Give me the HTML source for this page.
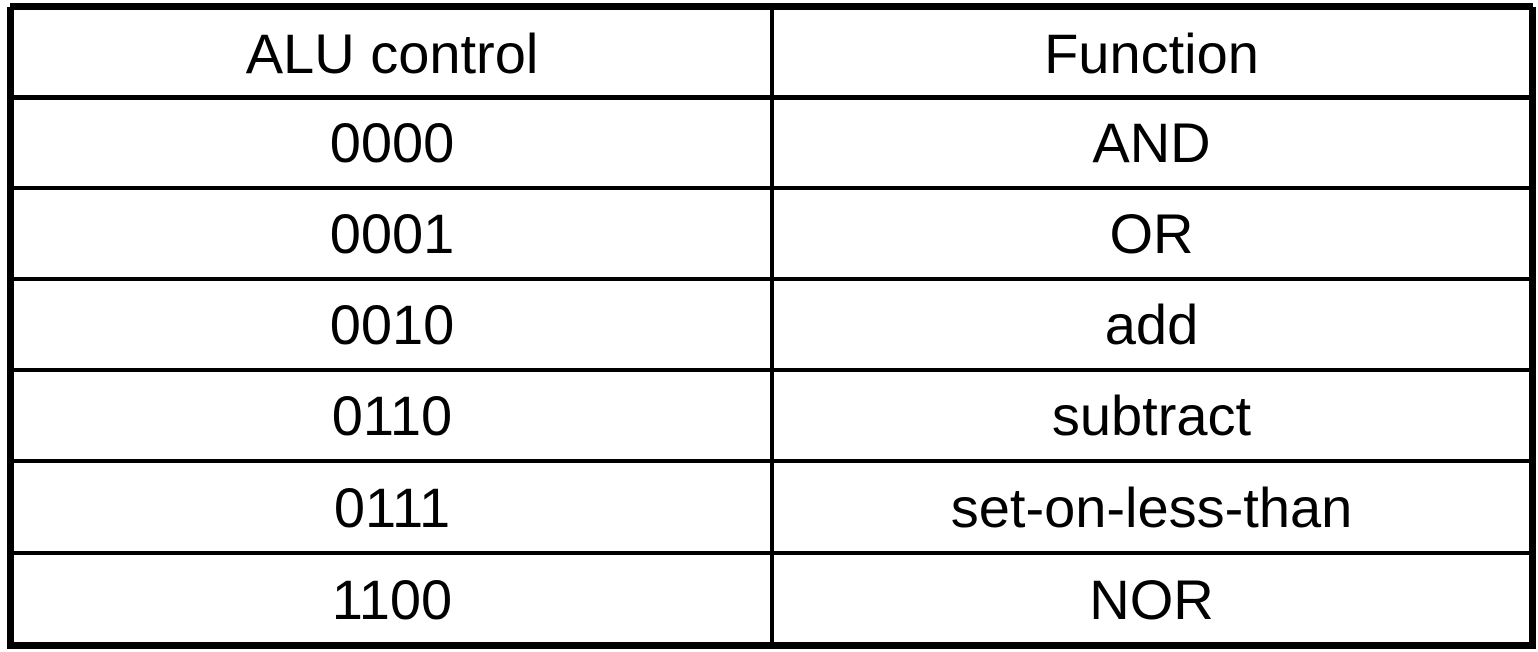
<!DOCTYPE html>
<html><head><meta charset="utf-8"><style>
html,body{margin:0;padding:0;background:#fff;width:1538px;height:652px;overflow:hidden;position:relative;font-family:"Liberation Sans",Arial,sans-serif}
.ln{position:absolute;background:#000}
.c{position:absolute;display:flex;align-items:center;justify-content:center;font-size:56px;color:#000;white-space:nowrap}
</style></head><body>
<div class="ln" style="left:10px;top:3px;width:1523px;height:7px"></div>
<div class="ln" style="left:7px;top:7px;width:7px;height:642px"></div>
<div class="ln" style="left:1529px;top:7px;width:7px;height:642px"></div>
<div class="ln" style="left:7px;top:642px;width:1529px;height:7px"></div>
<div class="ln" style="left:770px;top:7px;width:4px;height:640px"></div>
<div id="rows"></div>
<script>
const controls=["0000","0001","0010","0110","0111","1100"];
const functions=["AND","OR","add","subtract","set-on-less-than","NOR"];
const lineY=[97,188,279,370,461,553];
const edges=[10,...lineY,645];
const root=document.getElementById('rows');
lineY.forEach((y,i)=>{
  const d=document.createElement('div');
  d.className='ln';
  
  
  const h=i===0?5:4;
  d.style.cssText=`left:14px;top:${y-h/2}px;width:1515px;height:${h}px`;
  root.appendChild(d);
});
const rows=[["ALU control","Function"]].concat(controls.map((c,i)=>[c,functions[i]]));
rows.forEach((r,i)=>{
  const top=edges[i]+2,h=edges[i+1]-edges[i]-4;
  const a=document.createElement('div');
  a.className='c';
  
  
  a.style.cssText=`left:14px;width:756px;top:${top}px;height:${h}px`;
  a.textContent=r[0];root.appendChild(a);
  const b=document.createElement('div');
  b.className='c';
  
  
  b.style.cssText=`left:774px;width:755px;top:${top}px;height:${h}px`;
  b.textContent=r[1];root.appendChild(b);
});
</script>
</body></html>
